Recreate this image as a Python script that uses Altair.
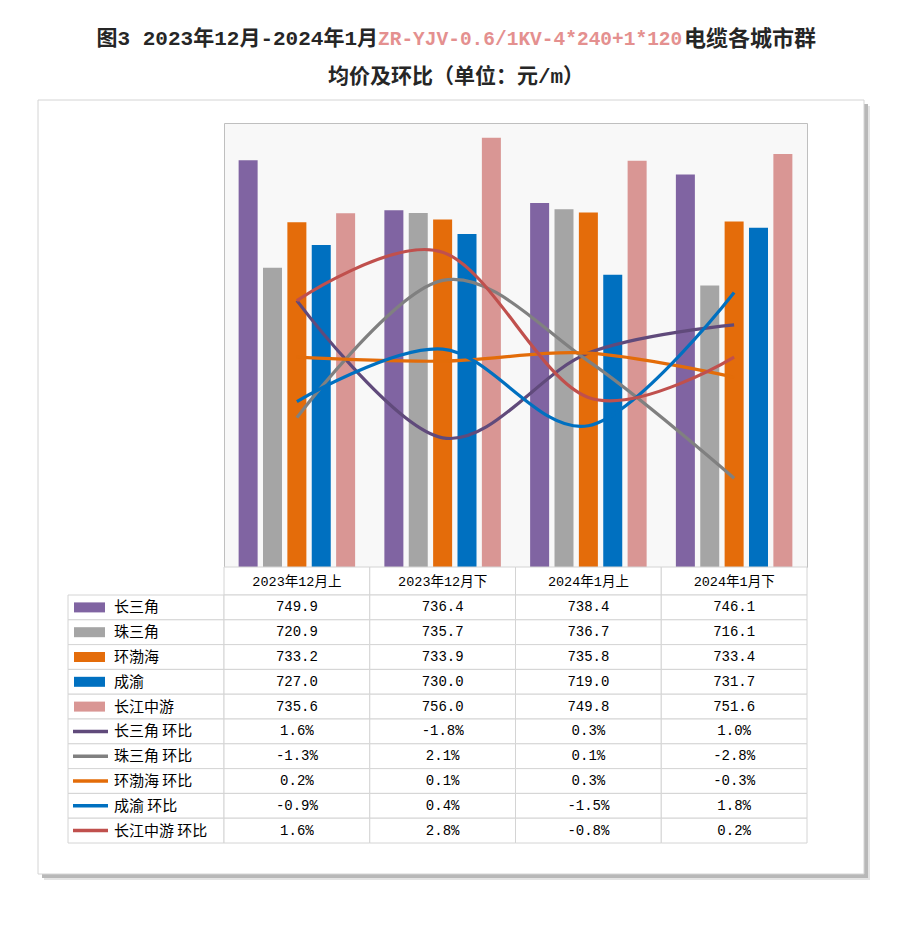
import altair as alt
import pandas as pd

FONT = "Noto Sans CJK SC"
MONO = "Liberation Mono, Noto Sans CJK SC"

# ---------------- data ----------------
categories = ["2023年12月上", "2023年12月下", "2024年1月上", "2024年1月下"]
regions = ["长三角", "珠三角", "环渤海", "成渝", "长江中游"]

price_csj = [749.9, 736.4, 738.4, 746.1]
price_zsj = [720.9, 735.7, 736.7, 716.1]
price_hbh = [733.2, 733.9, 735.8, 733.4]
price_cy = [727.0, 730.0, 719.0, 731.7]
price_cjzy = [735.6, 756.0, 749.8, 751.6]

chg_csj = [1.6, -1.8, 0.3, 1.0]
chg_zsj = [-1.3, 2.1, 0.1, -2.8]
chg_hbh = [0.2, 0.1, 0.3, -0.3]
chg_cy = [-0.9, 0.4, -1.5, 1.8]
chg_cjzy = [1.6, 2.8, -0.8, 0.2]

chg_labels = ["长三角 环比", "珠三角 环比", "环渤海 环比", "成渝 环比", "长江中游 环比"]

bar_colors = ["#8064A2", "#A5A5A5", "#E46C0A", "#0070C0", "#D99694"]
line_colors = ["#604A7B", "#808080", "#E36C09", "#0070C0", "#C0504D"]

title_part1 = "图3 2023年12月-2024年1月"
title_part2 = "ZR-YJV-0.6/1KV-4*240+1*120"
title_part3 = "电缆各城市群"
title_line2 = "均价及环比（单位：元/m）"

# ---------------- tables ----------------
prices = [price_csj, price_zsj, price_hbh, price_cy, price_cjzy]
changes = [chg_csj, chg_zsj, chg_hbh, chg_cy, chg_cjzy]

bars_df = pd.DataFrame([
    {"cat": c, "region": r, "value": v}
    for r, vals in zip(regions, prices) for c, v in zip(categories, vals)
])
lines_df = pd.DataFrame([
    {"cat": c, "series": s, "value": v}
    for s, vals in zip(chg_labels, changes) for c, v in zip(categories, vals)
])
rows = regions + chg_labels
table_df = pd.DataFrame(
    [{"cat": c, "row": r, "text": f"{v:.1f}"} for r, vals in zip(regions, prices) for c, v in zip(categories, vals)]
    + [{"cat": c, "row": s, "text": f"{v:.1f}%"} for s, vals in zip(chg_labels, changes) for c, v in zip(categories, vals)]
)
legend_df = pd.DataFrame({"row": rows, "kind": ["bar"] * 5 + ["line"] * 5})
header_df = pd.DataFrame({"cat": categories})
one = pd.DataFrame({"a": [0]})

PLOT_W, PLOT_H = 583, 444
LEFT_W = 156
HDR_H = 28
TBL_H = 248

x_scale = alt.Scale(type="band", domain=categories, paddingInner=0, paddingOuter=0)
row_scale = alt.Scale(type="band", domain=rows, paddingInner=0, paddingOuter=0)
swatch_scale = alt.Scale(domain=rows, range=bar_colors + line_colors)
no_view = alt.ViewBackground(stroke="transparent", fill="transparent")

# ---------------- spacer (title + frame) ----------------
def rect_layer(x, y, x2, y2, **kw):
    return alt.Chart(one).mark_rect(**kw).encode(
        x=alt.value(x), y=alt.value(y), x2=alt.value(x2), y2=alt.value(y2))

def text_layer(txt, x, y, **kw):
    return alt.Chart(one).mark_text(baseline="middle", **kw).encode(
        x=alt.value(x), y=alt.value(y), text=alt.value(txt))

spacer = alt.layer(
    rect_layer(-59, -114, 823, 806, fill="white"),
    rect_layer(-24, -17, 802, 757, fill="#E4E4E4"),
    rect_layer(-26, -19, 800, 755, fill="#B8B8B8"),
    rect_layer(-30, -23, 796, 751, fill="white", stroke="#D4D4D4", strokeWidth=1),
    text_layer(title_part1, 310, -84, align="right", font=MONO, fontSize=21, fontWeight="bold", color="#262626"),
    text_layer(title_part2, 310, -84, align="left", font=MONO, fontSize=19.5, fontWeight="bold", color="#E4908F"),
    text_layer(title_part3, 616, -84, align="left", font=MONO, fontSize=22, fontWeight="bold", color="#262626"),
    text_layer(title_line2, 388, -46, align="center", font=MONO, fontSize=21, fontWeight="bold", color="#262626"),
).properties(width=LEFT_W, height=PLOT_H, view=no_view)

# ---------------- plot ----------------
bars = alt.Chart(bars_df).mark_bar(clip=True).encode(
    x=alt.X("cat:N", sort=categories, scale=x_scale, axis=None),
    xOffset=alt.XOffset("region:N", sort=regions,
                        scale=alt.Scale(domain=regions, paddingInner=0.22, paddingOuter=0.6)),
    y=alt.Y("value:Q", scale=alt.Scale(domain=[640, 760], zero=False, nice=False), axis=None),
    color=alt.Color("region:N", scale=alt.Scale(domain=regions, range=bar_colors), legend=None),
)
lines = alt.Chart(lines_df).mark_line(interpolate="cardinal", strokeWidth=3.2).encode(
    x=alt.X("cat:N", sort=categories, scale=x_scale, axis=None, bandPosition=0.5),
    y=alt.Y("value:Q", scale=alt.Scale(domain=[-5, 6], zero=False, nice=False), axis=None),
    color=alt.Color("series:N", scale=alt.Scale(domain=chg_labels, range=line_colors), legend=None),
    detail="series:N",
)
plot = alt.layer(bars, lines).resolve_scale(y="independent", color="independent").properties(
    width=PLOT_W, height=PLOT_H,
    view=alt.ViewBackground(fill="#F8F8F8", stroke="#BFBFBF", strokeWidth=1),
)

# ---------------- header row ----------------
hdr_left = alt.Chart(one).mark_text(text=" ", opacity=0).encode(
    x=alt.value(10), y=alt.value(10)).properties(width=LEFT_W, height=HDR_H, view=no_view)

hdr_base = alt.Chart(header_df)
header = alt.layer(
    hdr_base.mark_rect(fill="white", stroke="#D4D4D4", strokeWidth=1).encode(
        x=alt.X("cat:N", sort=categories, scale=x_scale, axis=None),
        y=alt.value(0), y2=alt.value(HDR_H)),
    hdr_base.mark_text(font=MONO, fontSize=13.5, color="black", baseline="middle").encode(
        x=alt.X("cat:N", sort=categories, scale=x_scale, axis=None, bandPosition=0.5),
        y=alt.value(HDR_H / 2 + 1), text="cat:N"),
).properties(width=PLOT_W, height=HDR_H, view=no_view)

# ---------------- legend column ----------------
leg_base = alt.Chart(legend_df)
legend_tbl = alt.layer(
    leg_base.mark_rect(fill="white", stroke="#D4D4D4", strokeWidth=1).encode(
        x=alt.value(0), x2=alt.value(LEFT_W),
        y=alt.Y("row:N", sort=rows, scale=row_scale, axis=None)),
    leg_base.transform_filter(alt.datum.kind == "bar").mark_bar(size=10).encode(
        x=alt.value(6), x2=alt.value(37),
        y=alt.Y("row:N", sort=rows, scale=row_scale, axis=None),
        color=alt.Color("row:N", scale=swatch_scale, legend=None)),
    leg_base.transform_filter(alt.datum.kind == "line").mark_rule(strokeWidth=3.5).encode(
        x=alt.value(5), x2=alt.value(40),
        y=alt.Y("row:N", sort=rows, scale=row_scale, axis=None, bandPosition=0.5),
        color=alt.Color("row:N", scale=swatch_scale, legend=None)),
    leg_base.mark_text(font=FONT, fontSize=15, color="black", align="left", baseline="middle").encode(
        x=alt.value(46),
        y=alt.Y("row:N", sort=rows, scale=row_scale, axis=None, bandPosition=0.5),
        text="row:N"),
).properties(width=LEFT_W, height=TBL_H, view=no_view)

# ---------------- values ----------------
val_base = alt.Chart(table_df)
values_tbl = alt.layer(
    val_base.mark_rect(fill="white", stroke="#D4D4D4", strokeWidth=1).encode(
        x=alt.X("cat:N", sort=categories, scale=x_scale, axis=None),
        y=alt.Y("row:N", sort=rows, scale=row_scale, axis=None)),
    val_base.mark_text(font=MONO, fontSize=14, color="black", baseline="middle").encode(
        x=alt.X("cat:N", sort=categories, scale=x_scale, axis=None, bandPosition=0.5),
        y=alt.Y("row:N", sort=rows, scale=row_scale, axis=None, bandPosition=0.5),
        text="text:N"),
).properties(width=PLOT_W, height=TBL_H, view=no_view)

chart = alt.concat(
    spacer, plot, hdr_left, header, legend_tbl, values_tbl, columns=2, spacing=0
).properties(
    bounds="flush", padding=0,
).configure_view(stroke="transparent").configure(font=FONT)

chart.save("out.html", embed_options={"renderer": "svg", "actions": False})
